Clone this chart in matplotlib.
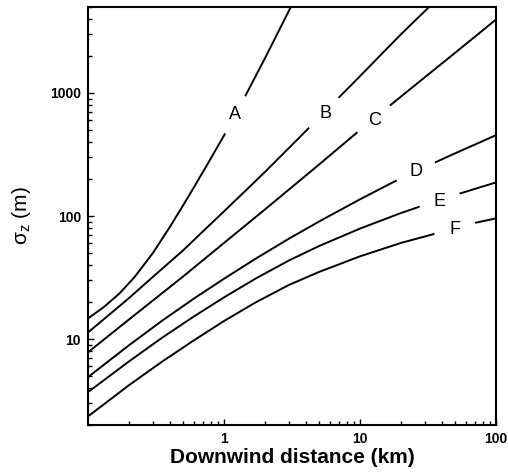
import matplotlib
matplotlib.use('Agg')
import matplotlib.pyplot as plt
from matplotlib.ticker import LogLocator, NullFormatter, FixedLocator, FixedFormatter

plt.rcParams['font.family'] = ['Liberation Sans', 'DejaVu Sans']
plt.rcParams['mathtext.fontset'] = 'custom'
plt.rcParams['mathtext.rm'] = 'Liberation Sans'
plt.rcParams['mathtext.it'] = 'Liberation Sans:italic'

# Stability classes
classes = ['A', 'B', 'C', 'D', 'E', 'F']

# Downwind distance (km) and sigma_z (m)
x_A = [0.1, 0.13, 0.17, 0.22, 0.3, 0.4, 0.5, 0.6, 0.75, 1.0, 1.4, 2.0, 3.1]
sz_A = [14.7, 18.1, 23.4, 31.9, 50.0, 81.5, 121.8, 170.7, 259.6, 451, 899, 1914, 5000]

x_B = [0.1, 0.2, 0.3, 0.5, 0.7, 1.0, 2.0, 3.7, 7.2, 10, 20, 32.2]
sz_B = [11.3, 21.5, 32, 52.5, 75, 109, 228, 450, 950, 1370, 3000, 5000]

x_C = [0.1, 0.2, 0.5, 1.0, 2.0, 5.0, 10, 20, 50, 100]
sz_C = [7.8, 14.4, 32.2, 60.4, 113, 262, 500, 935, 2120, 3954]

x_D = [0.1, 0.2, 0.35, 0.6, 1.0, 1.7, 3.0, 5.0, 10, 17.6, 30, 50, 100]
sz_D = [4.9, 8.89, 14.07, 21.3, 30.9, 44.8, 65.4, 90.2, 136.7, 188.7, 250, 323, 454]

x_E = [0.1, 0.2, 0.35, 0.6, 1.0, 1.7, 3.0, 5.0, 10, 20, 30, 50, 100]
sz_E = [3.7, 6.57, 10.23, 15.24, 21.8, 30.9, 43.5, 57.0, 79.0, 105.7, 123.3, 148.1, 187.5]

x_F = [0.1, 0.2, 0.35, 0.6, 1.0, 1.7, 3.0, 5.0, 10, 20, 35, 70, 100]
sz_F = [2.35, 4.21, 6.54, 9.75, 14.0, 19.78, 27.5, 35.1, 47.0, 60.4, 71.4, 87.9, 95.7]

# Curve label anchor positions (data coords)
label_x = [1.21, 5.53, 12.9, 25.7, 38.7, 50.0]
label_y = [664, 676, 597, 231, 132, 77.8]

series = [(x_A, sz_A), (x_B, sz_B), (x_C, sz_C), (x_D, sz_D), (x_E, sz_E), (x_F, sz_F)]

W, H = 508, 473
fig = plt.figure(figsize=(W / 100, H / 100), dpi=100)
ax = fig.add_axes([88 / W, 1 - 425 / H, (496 - 88) / W, (425 - 7) / H])

for xs, ys in series:
    ax.plot(xs, ys, color='black', lw=1.4, solid_joinstyle='round')

ax.set_xscale('log')
ax.set_yscale('log')
ax.set_xlim(0.1, 100)
ax.set_ylim(2, 5000)

for name, lx, ly in zip(classes, label_x, label_y):
    ax.text(lx, ly, name, ha='center', va='center', fontsize=13,
            bbox=dict(boxstyle='circle,pad=0.7', fc='white', ec='none'), zorder=5)

ax.xaxis.set_major_locator(FixedLocator([1, 10, 100]))
ax.xaxis.set_major_formatter(FixedFormatter(['1', '10', '100']))
ax.xaxis.set_minor_locator(LogLocator(base=10, subs=range(2, 10), numticks=20))
ax.xaxis.set_minor_formatter(NullFormatter())

ax.yaxis.set_major_locator(FixedLocator([10, 100, 1000]))
ax.yaxis.set_major_formatter(FixedFormatter(['10', '100', '1000']))
ax.yaxis.set_minor_locator(LogLocator(base=10, subs=range(2, 10), numticks=20))
ax.yaxis.set_minor_formatter(NullFormatter())

ax.tick_params(which='both', direction='in', top=False, right=False, width=1.0)
ax.tick_params(which='major', length=4.5, pad=5, labelsize=10)
ax.tick_params(which='minor', length=2.6)
for lab in ax.get_xticklabels() + ax.get_yticklabels():
    lab.set_fontweight('bold')

for sp in ax.spines.values():
    sp.set_linewidth(1.5)

ax.set_xlabel('Downwind distance (km)', fontsize=15, fontweight='bold')
ax.set_ylabel(r'$\mathregular{\sigma_z}$ (m)', fontsize=15)
ax.xaxis.set_label_coords(0.5, -0.056)
ax.yaxis.set_label_coords(-0.135, 0.5)

fig.savefig('out.png', dpi=100)
